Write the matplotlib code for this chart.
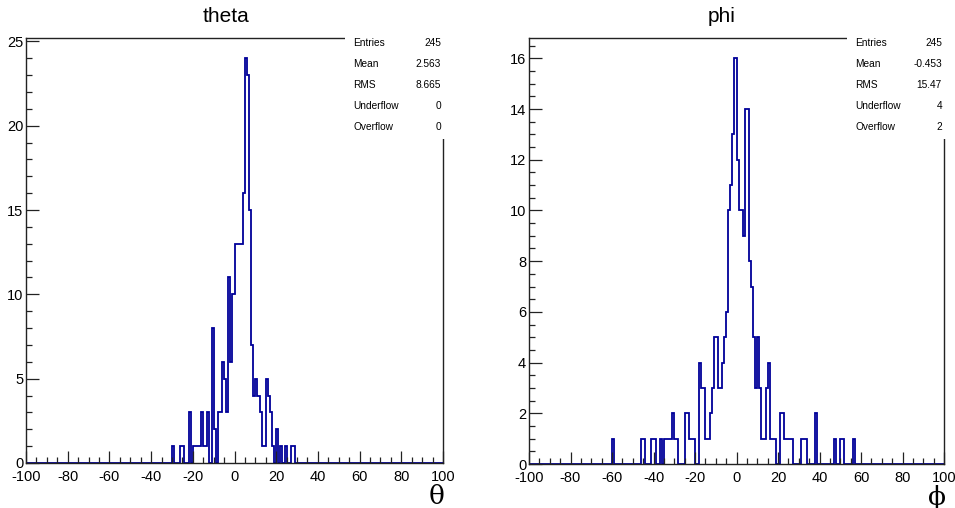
import matplotlib
matplotlib.use("Agg")
import matplotlib.pyplot as plt
from matplotlib.patches import Rectangle
import numpy as np

plt.rcParams['font.family'] = ['Liberation Sans', 'DejaVu Sans']
plt.rcParams['axes.unicode_minus'] = False

# ---------------- DATA ----------------

edges = np.arange(-100, 101, 1)

theta_bins = [-30, -26, -25, -22, -20, -19, -18, -17, -16, -15, -14, -13, -11, -10,
              -8, -7, -6, -5, -4, -3, -2, -1, 0, 1, 2, 3, 4, 5, 6, 7, 8, 9, 10,
              11, 12, 13, 14, 15, 16, 17, 18, 20, 22, 24, 27, 28]
theta_counts = [1, 1, 1, 3, 1, 1, 1, 1, 3, 1, 1, 3, 8, 2,
                3, 3, 6, 5, 3, 11, 6, 10, 13, 13, 13, 13, 16, 24, 23, 15, 7, 4, 5,
                4, 3, 1, 1, 5, 4, 3, 1, 2, 1, 1, 1, 1]

phi_bins = [-60, -46, -45, -41, -40, -37, -35, -34, -33, -32, -31, -30, -29, -25, -24,
            -23, -22, -21, -18, -17, -16, -15, -14, -13, -12, -11, -10, -9, -8, -7,
            -6, -5, -4, -3, -2, -1, 0, 1, 2, 3, 4, 5, 6, 7, 8, 9, 10, 11, 12, 13,
            14, 15, 16, 17, 18, 21, 22, 23, 24, 25, 26, 31, 32, 33, 38, 47, 50, 51, 56]
phi_counts = [1, 1, 1, 1, 1, 1, 1, 1, 1, 1, 2, 1, 1, 2, 2,
              1, 1, 1, 4, 3, 3, 1, 1, 2, 3, 5, 5, 3, 3, 4,
              5, 6, 10, 11, 13, 16, 12, 10, 10, 9, 14, 14, 8, 7, 5, 3, 5, 3, 1, 1,
              3, 4, 1, 1, 1, 2, 2, 1, 1, 1, 1, 1, 1, 1, 2, 1, 1, 1, 1]

theta_stats = [("Entries", "245"), ("Mean", "2.563"), ("RMS", "8.665"),
               ("Underflow", "0"), ("Overflow", "0")]
phi_stats = [("Entries", "245"), ("Mean", "-0.453"), ("RMS", "15.47"),
             ("Underflow", "4"), ("Overflow", "2")]


def fill_hist(bins, counts):
    h = np.zeros(len(edges) - 1)
    for b, c in zip(bins, counts):
        h[b + 100] = c
    return h


theta_h = fill_hist(theta_bins, theta_counts)
phi_h = fill_hist(phi_bins, phi_counts)

# ---------------- FIGURE ----------------

W, H = 955, 508
fig = plt.figure(figsize=(W / 100, H / 100), dpi=100)
line_col = "#000099"


def px_axes(x0, y0, x1, y1):
    return fig.add_axes([x0 / W, 1 - y1 / H, (x1 - x0) / W, (y1 - y0) / H])


def draw_panel(ax, h, title, xlab, ymax, yticks, yminor, stats, box, title_x, xlab_x):
    ax.stairs(h, edges, color=line_col, lw=1.3, baseline=0)
    ax.set_xlim(-100, 100)
    ax.set_ylim(0, ymax)
    ax.set_xticks(np.arange(-100, 101, 20))
    ax.set_xticks(np.arange(-100, 101, 5), minor=True)
    ax.set_yticks(yticks)
    ax.set_yticks(yminor, minor=True)
    ax.tick_params(which='major', direction='in', length=9, width=0.9,
                   labelsize=10.5, color='#222222')
    ax.tick_params(which='minor', direction='in', length=4.5, width=0.9, color='#222222')
    ax.tick_params(axis='x', which='major', pad=5)
    ax.tick_params(axis='y', which='major', pad=2)
    for s in ax.spines.values():
        s.set_linewidth(1.0)
        s.set_color('#222222')

    fig.text(title_x / W, 1 - 16 / H, title, ha='center', va='center', fontsize=15)
    fig.text(xlab_x / W, 1 - 497 / H, xlab, ha='center', va='center',
             fontsize=19, family=['DejaVu Serif'])

    # statistics box over the top-right corner of the frame
    bx0, by0, bx1, by1 = box
    fig.add_artist(Rectangle((bx0 / W, 1 - by1 / H), (bx1 - bx0) / W, (by1 - by0) / H,
                             transform=fig.transFigure, facecolor='white',
                             edgecolor='none', zorder=5))
    for i, (name, val) in enumerate(stats):
        yy = 1 - (43 + 21 * i) / H
        fig.text((bx0 + 8) / W, yy, name, ha='left', va='center', fontsize=7.3, zorder=6)
        fig.text((bx1 - 5) / W, yy, val, ha='right', va='center', fontsize=7.3, zorder=6)


ax1 = px_axes(26, 38, 443, 463)
draw_panel(ax1, theta_h, "theta", "θ", 25.2, np.arange(0, 26, 5), np.arange(0, 25.2, 1),
           theta_stats, (345, 32, 446, 139), 226, 437)

ax2 = px_axes(529, 38, 944, 464)
draw_panel(ax2, phi_h, "phi", "ϕ", 16.8, np.arange(0, 17, 2), np.arange(0, 16.8, 0.5),
           phi_stats, (847, 32, 947, 139), 722, 937)

fig.savefig("out.png", dpi=100)
